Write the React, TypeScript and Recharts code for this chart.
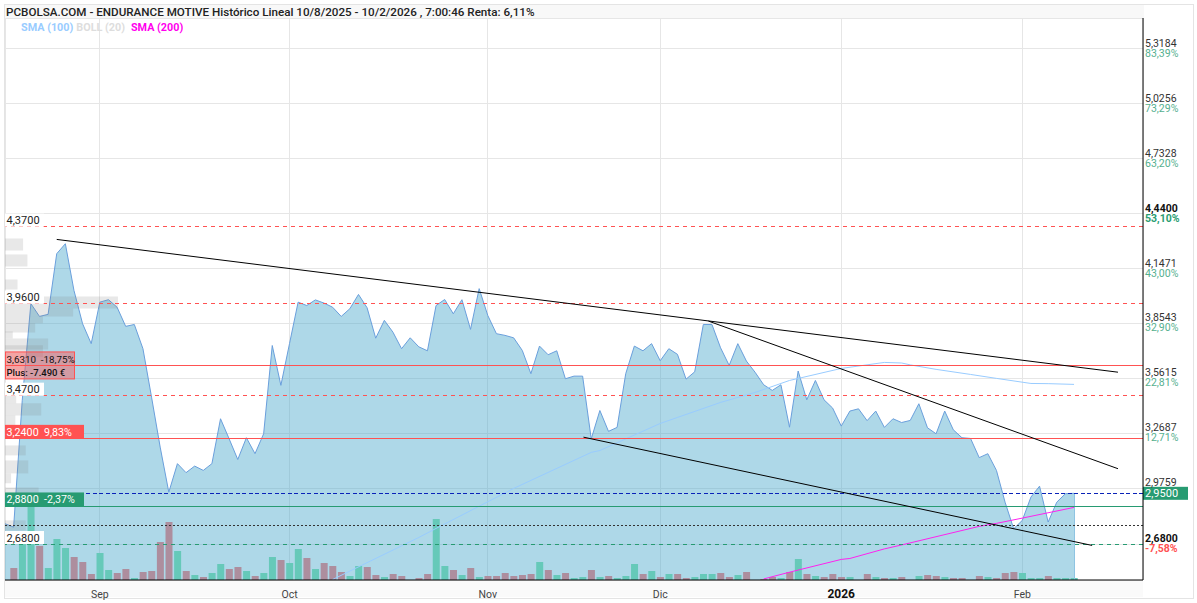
import React from "react";
import {
  ComposedChart, Area, Bar, Line, Cell, XAxis, YAxis, CartesianGrid,
  ReferenceLine, ReferenceArea,
} from "recharts";

const prices = [
  2.788, 2.77, 3.445, 3.96, 3.892, 3.903, 4.226, 4.279, 4.03, 3.853,
  3.747, 3.968, 3.981, 3.941, 3.839, 3.849, 3.72, 3.462, 3.196, 2.956,
  3.108, 3.06, 3.095, 3.072, 3.108, 3.347, 3.24, 3.13, 3.246, 3.161,
  3.267, 3.737, 3.525, 3.747, 3.968, 3.95, 3.98, 3.963, 3.941, 3.892,
  3.933, 4.009, 3.938, 3.776, 3.871, 3.808, 3.72, 3.778, 3.73, 3.709,
  3.95, 3.982, 3.906, 3.981, 3.823, 4.04, 3.897, 3.8, 3.791, 3.778,
  3.711, 3.587, 3.734, 3.688, 3.709, 3.56, 3.574, 3.574, 3.24, 3.391,
  3.28, 3.301, 3.587, 3.734, 3.709, 3.747, 3.656, 3.72, 3.69, 3.558,
  3.597, 3.849, 3.849, 3.725, 3.631, 3.747, 3.654, 3.595, 3.528, 3.498,
  3.528, 3.302, 3.601, 3.448, 3.551, 3.448, 3.404, 3.308, 3.388, 3.4,
  3.337, 3.388, 3.301, 3.347, 3.327, 3.338, 3.427, 3.299, 3.267, 3.388,
  3.288, 3.246, 3.242, 3.14, 3.161, 3.072, 2.903, 2.761, 2.806, 2.93,
  2.988, 2.797, 2.903, 2.948, 2.95,
];

const volumes = [
  0, 12, 36, 73, 34, 12, 41, 32, 23, 18,
  6, 27, 10, 7, 11, 2, 8, 9, 38, 58,
  29, 9, 5, 3, 7, 16, 11, 13, 9, 4,
  7, 23, 20, 17, 31, 22, 11, 17, 14, 8,
  4, 14, 13, 5, 3, 6, 4, 0, 2, 6,
  61, 14, 10, 5, 12, 3, 4, 4, 7, 4,
  5, 6, 18, 10, 5, 7, 2, 3, 10, 3,
  4, 2, 4, 16, 6, 9, 3, 6, 6, 2,
  3, 6, 6, 7, 3, 5, 8, 0, 1, 3,
  2, 8, 21, 6, 4, 3, 6, 3, 3, 0,
  6, 3, 2, 2, 3, 0, 4, 5, 4, 3,
  2, 2, 0, 4, 3, 2, 7, 8, 7, 2,
  2, 4, 2, 2, 2,
];

const upVolumeDays = [
  2, 3, 5, 6, 7, 11, 12, 15, 20, 22, 24, 25, 28, 30, 31, 33, 34, 36, 40, 41,
  44, 50, 51, 53, 55, 62, 64, 66, 67, 69, 71, 72, 73, 75, 77, 80, 81, 82, 85, 90,
  92, 94, 98, 101, 103, 106, 109, 114, 118, 119, 120, 122, 123, 124,
];

const sma100 = new Map<number, number>([
  [38, 2.491], [48, 2.715], [50, 2.763], [59, 2.976], [68, 3.168], [69, 3.178],
  [76, 3.322], [78, 3.354], [83, 3.434], [87, 3.487], [91, 3.551], [97, 3.615],
  [102, 3.647], [104, 3.644], [105, 3.634], [108, 3.61], [112, 3.583], [115, 3.562],
  [119, 3.535], [121, 3.534], [124, 3.53],
]);

const sma200 = new Map<number, number>([
  [88, 2.494], [91, 2.53], [97, 2.598], [98, 2.603], [102, 2.654], [104, 2.675],
  [113, 2.774], [115, 2.79], [118, 2.818], [124, 2.875],
]);

const monthTicks = [11, 33, 56, 76, 97, 118];
const monthLabels = ["Sep", "Oct", "Nov", "Dic", "2026", "Feb"];

const priceTicks = [5.3184, 5.0256, 4.7328, 4.44, 4.1471, 3.8543, 3.5615, 3.2687, 2.9759, 2.68];
const priceTickLabels = ["5,3184", "5,0256", "4,7328", "4,4400", "4,1471", "3,8543", "3,5615", "3,2687", "2,9759", "2,6800"];
const percentTickLabels = ["83,39%", "73,29%", "63,20%", "53,10%", "43,00%", "32,90%", "22,81%", "12,71%", "", "-7,58%"];

// [high price, low price, width in trading days]
const volumeProfile = [
  [4.307, 4.243, 2.1], [4.222, 4.158, 2.6], [4.089, 4.036, 1.45], [3.998, 3.934, 13.1],
  [3.934, 3.892, 7.9], [3.892, 3.855, 4.4], [3.855, 3.807, 3.5], [3.812, 3.775, 0.9],
  [3.775, 3.716, 5.0], [3.738, 3.674, 4.4], [3.674, 3.604, 2.3], [3.471, 3.429, 1.3],
  [3.429, 3.365, 4.2], [3.365, 3.312, 1.2], [3.312, 3.258, 1.5], [3.205, 3.152, 2.4],
  [3.125, 3.056, 2.7], [3.056, 3.003, 0.7], [2.981, 2.939, 3.9], [2.806, 2.752, 2.4],
];

const trendLines = [
  [6, 4.302, 129.1, 3.595],
  [81.6, 3.867, 129.1, 3.081],
  [67.1, 3.249, 126.1, 2.6725],
];

const chartData = prices.map((price, i) => ({
  i,
  price,
  vol: volumes[i],
  sma100: sma100.get(i),
  sma200: sma200.get(i),
}));

const FONT = "Roboto, sans-serif";
const UP = "#66c9b9";
const DOWN = "#ad8e9e";
const RED = "#ff5252";
const GREEN = "#279b72";
const CRISP = { shapeRendering: "crispEdges" } as any;

const PriceTick = ({ x, y, payload }: any) => {
  const k = priceTicks.indexOf(payload.value);
  const strong = payload.value === 4.44 || payload.value === 2.68;
  const pct = percentTickLabels[k];
  return (
    <g fontFamily={FONT} fontSize={10.5} fontWeight={strong ? 700 : 400}>
      <text x={x - 6} y={y - 2} fill={strong ? "#111" : "#333"}>{priceTickLabels[k]}</text>
      <text x={x - 6} y={y + 8} fill={pct.startsWith("-") ? RED : strong ? "#2a9d72" : "#55b08f"}>{pct}</text>
    </g>
  );
};

const MonthTick = ({ x, y, payload }: any) => {
  const k = monthTicks.indexOf(payload.value);
  const strong = monthLabels[k] === "2026";
  return (
    <text x={x} y={y + 10} textAnchor="middle" fontFamily={FONT} fontSize={strong ? 12 : 10.5} fontWeight={strong ? 700 : 400} fill={strong ? "#111" : "#444"}>
      {monthLabels[k]}
    </text>
  );
};

const whiteTag = (text: string) => ({ viewBox }: any) => (
  <g fontFamily={FONT} fontSize={11}>
    <rect x={viewBox.x} y={viewBox.y - 13} width={39} height={13} fill="#fff" />
    <text x={viewBox.x + 1.5} y={viewBox.y - 2.5} fill="#222">{text}</text>
  </g>
);

const solidTag = (text: string, fill: string) => ({ viewBox }: any) => (
  <g fontFamily={FONT} fontSize={10.7}>
    <rect x={viewBox.x} y={viewBox.y - 14} width={79} height={14} fill={fill} />
    <text x={viewBox.x + 1.5} y={viewBox.y - 3} fill="#fff" xmlSpace="preserve">{text}</text>
  </g>
);

const planTag = ({ viewBox }: any) => (
  <g fontFamily={FONT} fill="#111">
    <rect x={viewBox.x + 0.5} y={viewBox.y - 13.5} width={69} height={27} fill={RED} fillOpacity={0.45} stroke={RED} />
    <text x={viewBox.x + 1.5} y={viewBox.y - 2.5} fontSize={9.8} xmlSpace="preserve">3,6310  -18,75%</text>
    <text x={viewBox.x + 1.5} y={viewBox.y + 11} fontWeight={500} fontSize={9.5}>Plus: -7.490 €</text>
  </g>
);

const lastPriceTag = ({ viewBox }: any) => (
  <g fontFamily={FONT} fontSize={11}>
    <rect x={viewBox.x + viewBox.width} y={viewBox.y - 6.5} width={45} height={13} fill={GREEN} />
    <text x={viewBox.x + viewBox.width + 2} y={viewBox.y + 4} fill="#fff">2,9500</text>
  </g>
);

export default function App() {
  return (
    <div style={{ position: "fixed", left: 0, top: 0, width: 1197, height: 603, background: "#fff", overflow: "hidden" }}>
      <div style={{ position: "absolute", left: 4, top: 4, width: 1188, height: 593, border: "1px solid #e4e4e4" }} />
      <div style={{ position: "absolute", left: 5, top: 5, width: 1138, height: 14, background: "#f8f8f8", fontFamily: FONT, fontSize: 11.65, fontWeight: 500, lineHeight: "14px", color: "#222", paddingLeft: 1, whiteSpace: "pre" }}>
        PCBOLSA.COM - ENDURANCE MOTIVE Histórico Lineal 10/8/2025 - 10/2/2026 , 7:00:46 Renta: 6,11%
      </div>
      <div style={{ position: "absolute", left: 5, top: 581, width: 1138, height: 16, background: "#fafafa" }} />
      <div style={{ position: "absolute", left: 0, top: 0 }}>
        <ComposedChart width={1197} height={603} data={chartData} margin={{ top: 18, right: 0, bottom: 0, left: 5 }}>
          <CartesianGrid stroke="#e6e6e6" {...CRISP} />
          <XAxis
            dataKey="i" type="number" domain={[0, 132]} ticks={monthTicks} interval={0} height={23}
            tick={<MonthTick />} tickLine={false} axisLine={{ stroke: "#000" }} allowDataOverflow
          />
          <YAxis
            orientation="right" width={54} type="number" domain={[2.4884, 5.4811]} ticks={priceTicks} interval={0}
            tick={<PriceTick />} tickLine={false} tickMargin={2} axisLine={{ stroke: "#000" }} allowDataOverflow
          />
          <YAxis yAxisId="vol" hide domain={[0, 562]} />
          <Area dataKey="price" type="linear" stroke="#6a9fdc" strokeWidth={1} fill="#4ba9cc" fillOpacity={0.45} isAnimationActive={false} dot={false} activeDot={false} />
          <ReferenceLine segment={[{ x: 124, y: 2.4884 }, { x: 124, y: 2.95 }]} stroke="#8ec4e2" {...CRISP} />
          <Bar dataKey="vol" yAxisId="vol" barSize={7} isAnimationActive={false}>
            {chartData.map((d) => (
              <Cell key={d.i} fill={upVolumeDays.includes(d.i) ? UP : DOWN} />
            ))}
          </Bar>
          {volumeProfile.map(([hi, lo, w], k) => (
            <ReferenceArea key={k} x1={0} x2={w} y1={lo} y2={hi} fill="#808080" fillOpacity={0.18} stroke="none" />
          ))}
          <Line dataKey="sma100" connectNulls type="linear" stroke="#99ccff" strokeWidth={1} dot={false} activeDot={false} isAnimationActive={false} />
          <Line dataKey="sma200" connectNulls type="linear" stroke="#ff22ee" strokeWidth={1} dot={false} activeDot={false} isAnimationActive={false} />
          <ReferenceLine y={4.37} stroke={RED} strokeDasharray="4 4" label={whiteTag("4,3700")} {...CRISP} />
          <ReferenceLine y={3.96} stroke={RED} strokeDasharray="4 4" label={whiteTag("3,9600")} {...CRISP} />
          <ReferenceLine y={3.631} stroke={RED} label={planTag} {...CRISP} />
          <ReferenceLine y={3.47} stroke={RED} strokeDasharray="4 4" label={whiteTag("3,4700")} {...CRISP} />
          <ReferenceLine y={3.24} stroke={RED} label={solidTag("3,2400  9,83%", RED)} {...CRISP} />
          <ReferenceLine y={2.95} stroke="#0a22b8" strokeDasharray="4 2.5" label={lastPriceTag} {...CRISP} />
          <ReferenceLine y={2.88} stroke={GREEN} label={solidTag("2,8800  -2,37%", GREEN)} {...CRISP} />
          <ReferenceLine y={2.777} stroke="#333" strokeDasharray="2 2" {...CRISP} />
          <ReferenceLine y={2.68} stroke={GREEN} strokeDasharray="4 4" label={whiteTag("2,6800")} {...CRISP} />
          {trendLines.map(([x1, y1, x2, y2], k) => (
            <ReferenceLine key={k} segment={[{ x: x1, y: y1 }, { x: x2, y: y2 }]} stroke="#000" strokeWidth={1} />
          ))}
        </ComposedChart>
      </div>
      <div style={{ position: "absolute", left: 21, top: 21, fontFamily: FONT, fontSize: 10.8, fontWeight: 700, lineHeight: "14px", whiteSpace: "pre" }}>
        <span style={{ color: "#99ccff" }}>SMA (100)</span>
        <span style={{ color: "#dddddd", marginLeft: 3 }}>BOLL (20)</span>
        <span style={{ color: "#ff00ee", marginLeft: 6 }}>SMA (200)</span>
      </div>
    </div>
  );
}
